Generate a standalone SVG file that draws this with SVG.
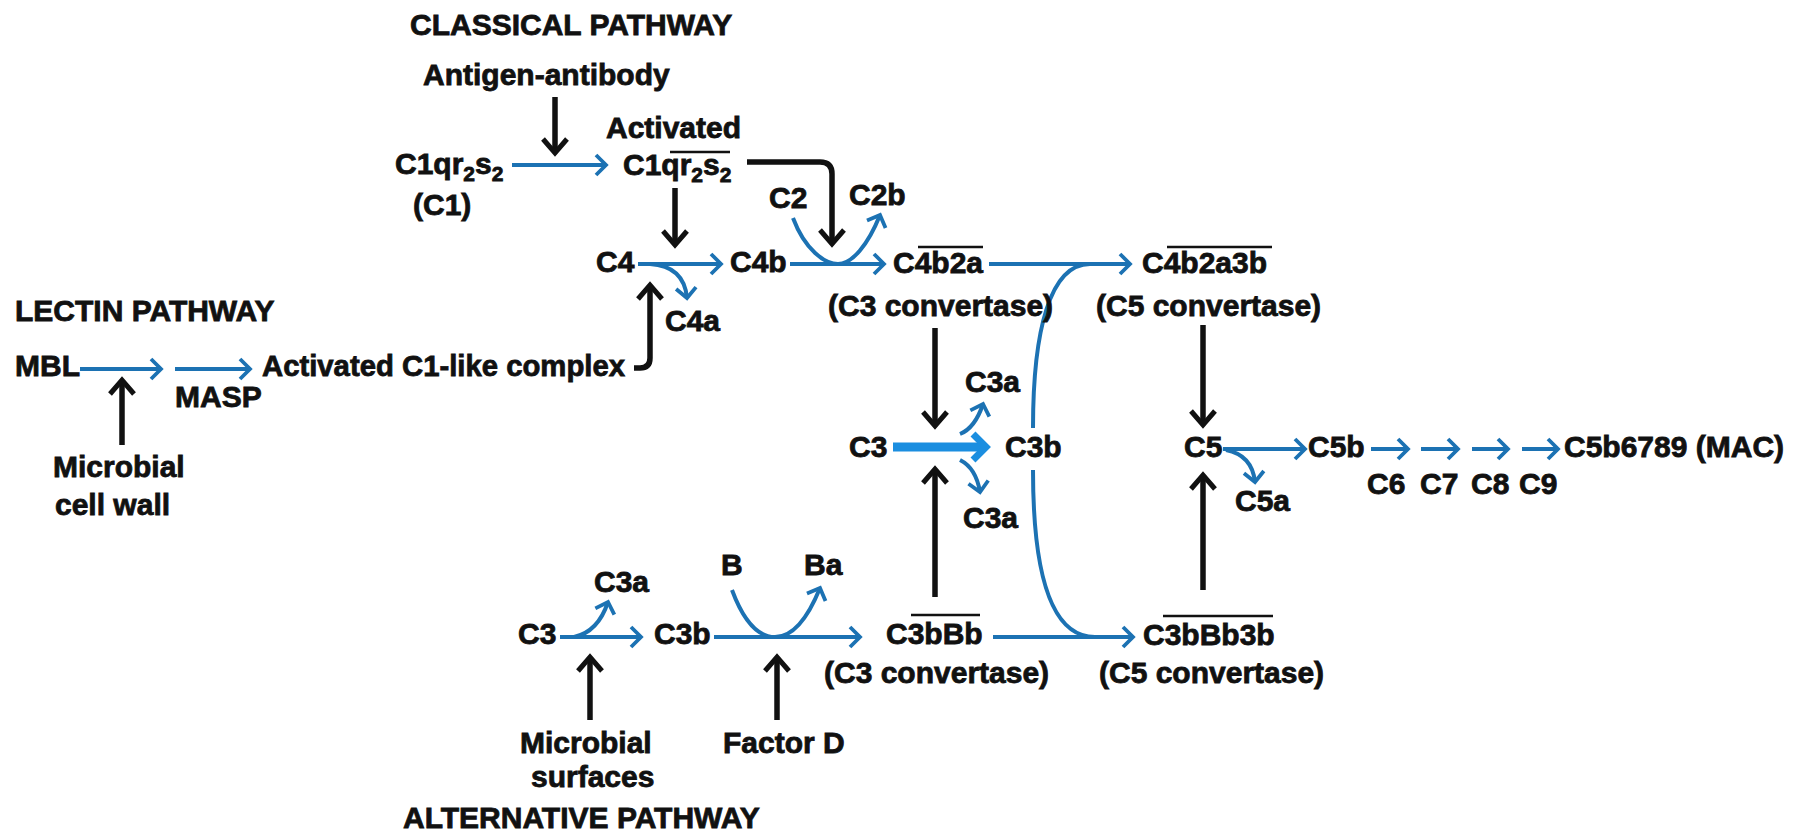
<svg xmlns="http://www.w3.org/2000/svg" width="1804" height="832" viewBox="0 0 1804 832">
<style>
text{font-family:"Liberation Sans",Arial,sans-serif;font-weight:bold;font-size:30px;fill:#111;stroke:#111;stroke-width:0.8}
.sub{font-size:21px}
.b{fill:none;stroke:#1c72b3;stroke-width:4}
.k{fill:none;stroke:#111;stroke-width:5.5}
.ol{stroke:#111;stroke-width:2.5}
</style>
<defs>
<marker id="ab" viewBox="-16 -16 32 32" markerWidth="32" markerHeight="32" refX="0" refY="0" orient="auto" markerUnits="userSpaceOnUse"><path d="M-10,-10 L0,0 L-10,10" fill="none" stroke="#1c72b3" stroke-width="3.8"/></marker>
<marker id="ak" viewBox="-20 -20 40 40" markerWidth="40" markerHeight="40" refX="0" refY="0" orient="auto" markerUnits="userSpaceOnUse"><path d="M-14,-12 L0,0 L-14,12" fill="none" stroke="#111" stroke-width="5"/></marker>
<marker id="at" viewBox="-20 -20 40 40" markerWidth="40" markerHeight="40" refX="0" refY="0" orient="auto" markerUnits="userSpaceOnUse"><path d="M-13,-13 L0,0 L-13,13" fill="none" stroke="#1b8ee0" stroke-width="7"/></marker>
</defs>

<g id="titles">
<text x="410" y="35">CLASSICAL PATHWAY</text>
<text x="15" y="321">LECTIN PATHWAY</text>
<text x="403" y="828">ALTERNATIVE PATHWAY</text>
</g>

<g id="connectors">
<!-- classical -->
<line class="k" x1="555" y1="97" x2="555" y2="153" marker-end="url(#ak)"/>
<line class="b" x1="512" y1="165" x2="606" y2="165" marker-end="url(#ab)"/>
<path class="k" d="M747,162 H820 Q832,162 832,174 V244" marker-end="url(#ak)"/>
<line class="k" x1="675" y1="188" x2="675" y2="245" marker-end="url(#ak)"/>
<line class="b" x1="638" y1="264" x2="721" y2="264" marker-end="url(#ab)"/>
<path class="b" d="M650,264 Q684,266 687,298" marker-end="url(#ab)"/>
<line class="b" x1="790" y1="264" x2="884" y2="264" marker-end="url(#ab)"/>
<path class="b" d="M793,218 C805,250 825,264 838,264 C852,264 868,245 880,215" marker-end="url(#ab)"/>
<line class="b" x1="989" y1="264" x2="1130" y2="264" marker-end="url(#ab)"/>
<path class="b" d="M1090,264 C1050,264 1033,330 1033,428"/>
<path class="b" d="M1033,470 C1033,570 1050,637 1095,637"/>
<line class="k" x1="935" y1="328" x2="935" y2="426" marker-end="url(#ak)"/>
<line class="k" x1="1203" y1="325" x2="1203" y2="425" marker-end="url(#ak)"/>
<line x1="893" y1="447" x2="986" y2="447" stroke="#1b8ee0" stroke-width="9" marker-end="url(#at)"/>
<path class="b" d="M960,434 Q975,428 983,404" marker-end="url(#ab)"/>
<path class="b" d="M960,460 Q976,468 980,492" marker-end="url(#ab)"/>
<line class="k" x1="935" y1="597" x2="935" y2="469" marker-end="url(#ak)"/>
<line class="b" x1="1223" y1="449" x2="1305" y2="449" marker-end="url(#ab)"/>
<path class="b" d="M1226,450 Q1252,455 1255,482" marker-end="url(#ab)"/>
<line class="b" x1="1371" y1="449" x2="1408" y2="449" marker-end="url(#ab)"/>
<line class="b" x1="1421" y1="449" x2="1458" y2="449" marker-end="url(#ab)"/>
<line class="b" x1="1472" y1="449" x2="1508" y2="449" marker-end="url(#ab)"/>
<line class="b" x1="1522" y1="449" x2="1558" y2="449" marker-end="url(#ab)"/>
<line class="k" x1="1203" y1="590" x2="1203" y2="475" marker-end="url(#ak)"/>
<!-- lectin -->
<line class="b" x1="80" y1="369" x2="161" y2="369" marker-end="url(#ab)"/>
<line class="b" x1="175" y1="369" x2="250" y2="369" marker-end="url(#ab)"/>
<line class="k" x1="122" y1="445" x2="122" y2="380" marker-end="url(#ak)"/>
<path class="k" d="M634,368 H640 Q650,368 650,358 V285" marker-end="url(#ak)"/>
<!-- alternative -->
<line class="b" x1="560" y1="637" x2="641" y2="637" marker-end="url(#ab)"/>
<path class="b" d="M574,637 Q598,632 608,602" marker-end="url(#ab)"/>
<line class="b" x1="714" y1="637" x2="860" y2="637" marker-end="url(#ab)"/>
<path class="b" d="M732,590 C745,625 760,637 775,637 C790,637 805,625 820,588" marker-end="url(#ab)"/>
<line class="k" x1="590" y1="720" x2="590" y2="657" marker-end="url(#ak)"/>
<line class="k" x1="777" y1="720" x2="777" y2="657" marker-end="url(#ak)"/>
<line class="b" x1="993" y1="637" x2="1133" y2="637" marker-end="url(#ab)"/>
</g>

<g id="n-antigen"><text x="423" y="85">Antigen-antibody</text></g>
<g id="n-c1"><text x="395" y="174">C1qr<tspan class="sub" dy="7">2</tspan><tspan dy="-7">s</tspan><tspan class="sub" dy="7">2</tspan></text><text x="413" y="215">(C1)</text></g>
<g id="n-c1act"><text x="606" y="138">Activated</text><text x="623" y="175">C1qr<tspan class="sub" dy="7">2</tspan><tspan dy="-7">s</tspan><tspan class="sub" dy="7">2</tspan></text><line class="ol" x1="670" y1="152" x2="730" y2="152"/></g>
<g id="n-c2"><text x="769" y="208">C2</text></g>
<g id="n-c2b"><text x="849" y="205">C2b</text></g>
<g id="n-c4"><text x="596" y="272">C4</text></g>
<g id="n-c4a"><text x="665" y="331">C4a</text></g>
<g id="n-c4b"><text x="730" y="272">C4b</text></g>
<g id="n-c4b2a"><text x="893" y="273">C4b2a</text><line class="ol" x1="918" y1="247" x2="983" y2="247"/><text x="828" y="316">(C3 convertase)</text></g>
<g id="n-c4b2a3b"><text x="1142" y="273">C4b2a3b</text><line class="ol" x1="1167" y1="247" x2="1272" y2="247"/><text x="1096" y="316">(C5 convertase)</text></g>
<g id="n-c3"><text x="849" y="457">C3</text></g>
<g id="n-c3b"><text x="1005" y="457">C3b</text></g>
<g id="n-c3a-up"><text x="965" y="392">C3a</text></g>
<g id="n-c3a-down"><text x="963" y="528">C3a</text></g>
<g id="n-c5"><text x="1184" y="457">C5</text></g>
<g id="n-c5a"><text x="1235" y="511">C5a</text></g>
<g id="n-c5b"><text x="1308" y="457">C5b</text></g>
<g id="n-c6"><text x="1367" y="494">C6</text></g>
<g id="n-c7"><text x="1420" y="494">C7</text></g>
<g id="n-c8"><text x="1471" y="494">C8</text></g>
<g id="n-c9"><text x="1519" y="494">C9</text></g>
<g id="n-mac"><text x="1564" y="457">C5b6789 (MAC)</text></g>
<g id="n-mbl"><text x="15" y="376">MBL</text></g>
<g id="n-masp"><text x="175" y="407">MASP</text></g>
<g id="n-c1like"><text x="262" y="376" textLength="363" lengthAdjust="spacingAndGlyphs">Activated C1-like complex</text></g>
<g id="n-mcw"><text x="53" y="477">Microbial</text><text x="55" y="515">cell wall</text></g>
<g id="n-alt-c3"><text x="518" y="644">C3</text></g>
<g id="n-alt-c3a"><text x="594" y="592">C3a</text></g>
<g id="n-alt-c3b"><text x="654" y="644">C3b</text></g>
<g id="n-b"><text x="721" y="575">B</text></g>
<g id="n-ba"><text x="804" y="575">Ba</text></g>
<g id="n-c3bbb"><text x="886" y="644">C3bBb</text><line class="ol" x1="911" y1="615" x2="980" y2="615"/><text x="824" y="683">(C3 convertase)</text></g>
<g id="n-c3bbb3b"><text x="1143" y="645">C3bBb3b</text><line class="ol" x1="1163" y1="616" x2="1273" y2="616"/><text x="1099" y="683">(C5 convertase)</text></g>
<g id="n-ms"><text x="520" y="753">Microbial</text><text x="531" y="787">surfaces</text></g>
<g id="n-fd"><text x="723" y="753">Factor D</text></g>
</svg>
